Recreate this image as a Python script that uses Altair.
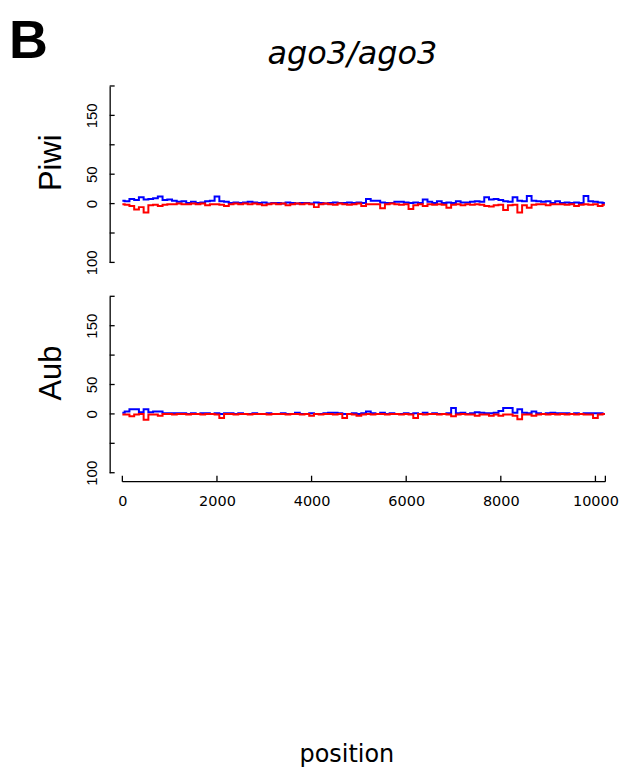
import altair as alt
import pandas as pd

# ---------------- data (100-bp bins, 0 .. 10200) ----------------
positions = list(range(0, 10201, 100))

piwi_sense = [5, 4, 8, 6, 11, 7, 8, 9, 12, 6,
              7, 5, 3, 4, 1, 3, 1, 2, 4, 5,
              12, 4, 3, 1, 2, 1, 2, 3, 2, 1,
              2, 0, 1, 1, 0, 2, 1, 0, 1, 1,
              0, 2, 1, 0, 1, 2, 1, 1, 2, 1,
              2, 1, 8, 5, 5, 2, 1, 1, 3, 3,
              2, 1, 2, 1, 7, 3, 1, 4, 1, 2,
              1, 4, 2, 2, 3, 4, 3, 11, 7, 8,
              6, 4, 3, 11, 5, 4, 13, 5, 4, 3,
              4, 1, 4, 1, 2, 1, 2, 1, 13, 4,
              3, 2, 1]
piwi_anti = [1, 2, 4, 10, 6, 15, 3, 2, 4, 2,
             1, 1, 0, 1, 1, 0, 1, 0, 3, 1,
             1, 2, 4, 1, 0, 1, 0, 1, 0, 1,
             3, 1, 0, 1, 0, 3, 1, 0, 1, 0,
             1, 6, 1, 0, 1, 2, 0, 1, 2, 1,
             0, 4, 1, 1, 1, 8, 1, 0, 1, 2,
             1, 9, 3, 1, 4, 1, 2, 1, 2, 7,
             2, 1, 3, 1, 2, 1, 2, 4, 5, 3,
             2, 11, 3, 2, 15, 3, 7, 2, 1, 1,
             3, 1, 1, 1, 2, 1, 4, 2, 1, 2,
             1, 4, 2]
aub_sense = [2, 4, 8, 8, 3, 8, 3, 4, 4, 1,
             1, 1, 1, 1, 0, 1, 0, 1, 1, 0,
             1, 0, 1, 1, 0, 1, 0, 0, 1, 0,
             0, 1, 0, 0, 1, 0, 0, 2, 0, 0,
             1, 0, 0, 1, 2, 2, 1, 0, 0, 1,
             0, 1, 4, 1, 0, 2, 0, 1, 0, 0,
             1, 0, 1, 0, 2, 0, 1, 0, 0, 1,
             10, 1, 2, 0, 1, 3, 2, 1, 1, 2,
             5, 10, 10, 2, 8, 2, 1, 4, 1, 0,
             1, 2, 1, 1, 1, 0, 1, 0, 1, 1,
             1, 1, 0]
aub_anti = [1, 1, 4, 1, 0, 10, 1, 1, 3, 0,
            0, 1, 0, 0, 1, 0, 0, 1, 0, 0,
            1, 7, 0, 0, 1, 0, 0, 1, 0, 0,
            0, 1, 0, 0, 0, 1, 0, 0, 1, 0,
            3, 0, 1, 0, 0, 1, 0, 7, 0, 1,
            3, 1, 0, 1, 0, 0, 1, 0, 0, 1,
            0, 1, 7, 0, 1, 0, 0, 1, 0, 1,
            4, 1, 0, 1, 1, 3, 1, 1, 3, 1,
            3, 1, 1, 3, 9, 1, 1, 3, 1, 0,
            1, 0, 1, 0, 1, 0, 1, 0, 1, 1,
            7, 1, 0]

y_ticks = [-100, -50, 0, 50, 100, 150, 200]
y_labels = [-100, 0, 50, 150]
x_labels = [0, 2000, 4000, 6000, 8000, 10000]
x_end = 10210
x_ticks = x_labels + [x_end]

panel_names = ["Piwi", "Aub"]
main_title = "ago3/ago3"
panel_letter = "B"
x_title = "position"

# ---------------- styling ----------------
FONT = "Liberation Sans"
FONT_H = "DejaVu Sans"
W, H = 502, 177
BLUE, RED = "#0000FF", "#FF0000"
xs = alt.Scale(domain=[-268, 10309], nice=False, zero=False)
ys = alt.Scale(domain=[-100, 200], nice=False, zero=False)

Y_AXIS = alt.Axis(values=y_labels, labelExpr="'' + abs(datum.value)",
                  domain=True, domainColor="black", domainWidth=1.3,
                  ticks=False, tickSize=0, grid=False, title=None,
                  labelAngle=270, labelAlign="center", labelBaseline="alphabetic",
                  labelPadding=13, labelFont=FONT, labelFontSize=15,
                  labelColor="black", labelOverlap=False)

X_AXIS = alt.Axis(values=x_labels, format="d", domain=False, ticks=False,
                  tickSize=0, grid=False, title=None, labelPadding=22,
                  labelFont=FONT_H, labelFontSize=14.5, labelColor="black",
                  labelOverlap=False, labelFlush=False)


def text_layer(txt, x, y, **kw):
    return alt.Chart(pd.DataFrame({"t": [txt]})).mark_text(**kw).encode(
        text="t:N", x=alt.value(x), y=alt.value(y))


def panel(name, sense, anti, bottom):
    xa = X_AXIS if bottom else None
    d_s = pd.DataFrame({"pos": positions, "val": sense})
    d_a = pd.DataFrame({"pos": positions, "val": [-v for v in anti]})
    blue = alt.Chart(d_s).mark_line(color=BLUE, strokeWidth=2, interpolate="step").encode(
        x=alt.X("pos:Q", scale=xs, axis=xa),
        y=alt.Y("val:Q", scale=ys, axis=Y_AXIS))
    red = alt.Chart(d_a).mark_line(color=RED, strokeWidth=2, interpolate="step").encode(
        x=alt.X("pos:Q", scale=xs, axis=xa),
        y=alt.Y("val:Q", scale=ys, axis=Y_AXIS))
    yt = alt.Chart(pd.DataFrame({"t": y_ticks})).mark_rule(
        color="black", strokeWidth=1.3).encode(
        y=alt.Y("t:Q", scale=ys, axis=Y_AXIS), x=alt.value(0), x2=alt.value(5))
    lab = text_layer(name, -49, 77, angle=270, align="center", baseline="alphabetic",
                     font=FONT, fontSize=31, color="black")
    layers = [blue, red, yt, lab]
    if bottom:
        xl = alt.Chart(pd.DataFrame({"a": [0], "b": [x_end]})).mark_rule(
            color="black", strokeWidth=1.3).encode(
            x=alt.X("a:Q", scale=xs, axis=xa), x2="b:Q", y=alt.value(186))
        xt = alt.Chart(pd.DataFrame({"t": x_ticks})).mark_rule(
            color="black", strokeWidth=1.3).encode(
            x=alt.X("t:Q", scale=xs, axis=xa), y=alt.value(180), y2=alt.value(186))
        xtitle = text_layer(x_title, 238, 467, align="center", baseline="alphabetic",
                            font=FONT_H, fontSize=24, color="black")
        layers += [xl, xt, xtitle]
    else:
        letter = text_layer(panel_letter, -101, -28, align="left", baseline="alphabetic",
                            font=FONT, fontSize=54, fontWeight="bold", color="black")
        title = text_layer(main_title, 243.5, -22, align="center", baseline="alphabetic",
                           font=FONT_H, fontSize=32, fontStyle="italic", color="black")
        layers += [letter, title]
    return alt.layer(*layers).properties(width=W, height=H)


p1 = panel(panel_names[0], piwi_sense, piwi_anti, False)
p2 = panel(panel_names[1], aub_sense, aub_anti, True)

chart = alt.vconcat(p1, p2, spacing=34, bounds="flush").properties(
    padding={"left": 1, "top": 6, "right": 5, "bottom": 0},
    background="white"
).configure_view(stroke=None)

chart.save("out.html", embed_options={"renderer": "svg", "actions": False})
